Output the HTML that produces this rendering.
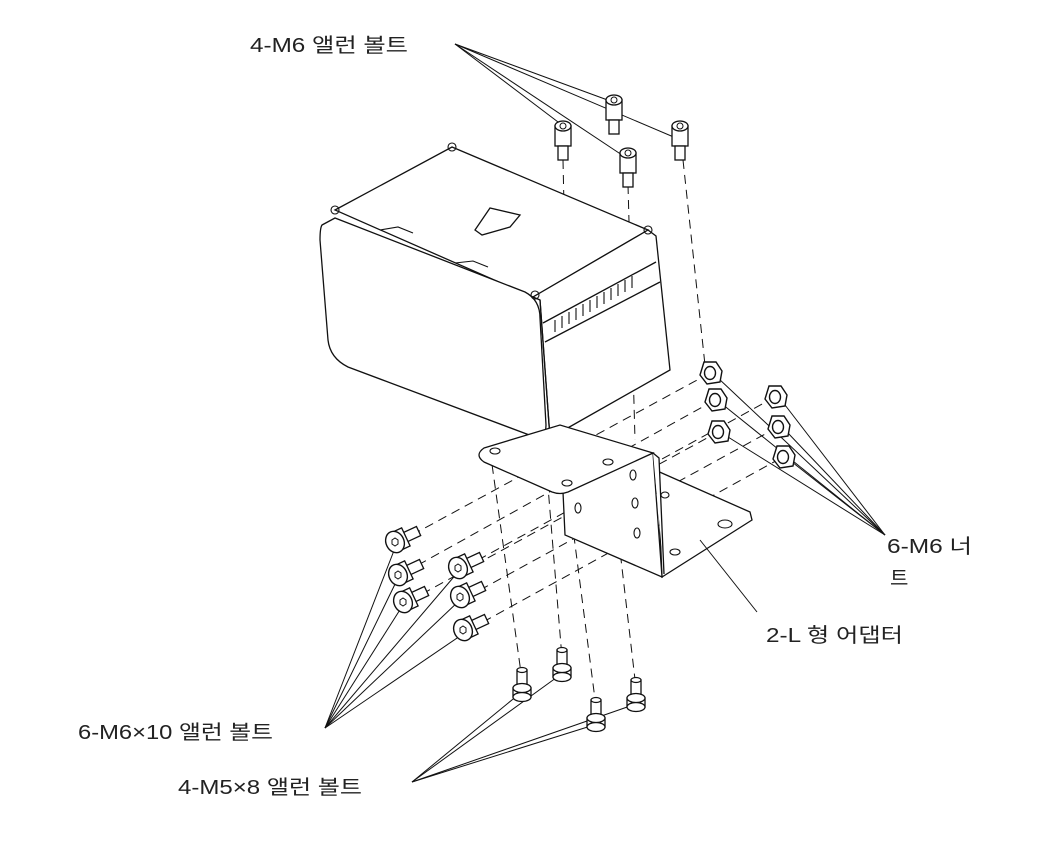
<!DOCTYPE html>
<html><head><meta charset="utf-8"><style>
html,body{margin:0;padding:0;background:#fff;}
svg{display:block}
text{font-family:"Liberation Sans","Noto Sans CJK KR",sans-serif;font-size:20px;fill:#222}
</style></head><body>
<svg width="1046" height="850" viewBox="0 0 1046 850" xmlns="http://www.w3.org/2000/svg">
<defs>
<g id="hb">
<rect x="-8" y="0" width="16" height="20" fill="#fff" stroke="#111" stroke-width="1.3"/>
<ellipse cx="0" cy="0" rx="8" ry="5" fill="#fff" stroke="#111" stroke-width="1.3"/>
<rect x="-5" y="20" width="10" height="14" fill="#fff" stroke="#111" stroke-width="1.3"/>
<circle cx="0" cy="0" r="3" fill="none" stroke="#111"/>
</g>
<g id="hbu">
<rect x="-5" y="-16" width="10" height="18" fill="#fff" stroke="#111" stroke-width="1.3"/>
<ellipse cx="0" cy="-16" rx="5" ry="2.5" fill="#fff" stroke="#111" stroke-width="1.2"/>
<rect x="-9" y="2" width="18" height="9" fill="#fff" stroke="#111" stroke-width="1.3"/>
<ellipse cx="0" cy="11" rx="9" ry="4.5" fill="#fff" stroke="#111" stroke-width="1.3"/>
<ellipse cx="0" cy="2" rx="9" ry="4.5" fill="#fff" stroke="#111" stroke-width="1.3"/>
</g>
<g id="hl">
<g transform="rotate(-25)">
<rect x="10" y="-5" width="16" height="10" fill="#fff" stroke="#111" stroke-width="1.3"/>
<rect x="-2" y="-10" width="14" height="20" fill="#fff" stroke="#111" stroke-width="1.3"/>
</g>
<ellipse cx="0" cy="0" rx="9" ry="11" transform="rotate(-25)" fill="#fff" stroke="#111" stroke-width="1.4"/>
<polygon points="-3,-2 0,-4 3,-2 3,2 0,4 -3,2" fill="none" stroke="#111"/>
</g>
<g id="nut">
<polygon points="-6,-11 6,-11 12,-2 10,9 -3,11 -10,2" fill="#fff" stroke="#111" stroke-width="1.4"/>
<ellipse cx="0" cy="0" rx="5.5" ry="6.5" fill="#fff" stroke="#111" stroke-width="1.4"/>
</g>
</defs>
<g fill="none" stroke="#111" stroke-width="1">
<g stroke-dasharray="9,6">
<line x1="563" y1="160" x2="570" y2="485"/>
<line x1="628" y1="185" x2="635" y2="440"/>
<line x1="683" y1="160" x2="705" y2="365"/>
<line x1="490" y1="450" x2="522" y2="680"/>
<line x1="545" y1="450" x2="562" y2="658"/>
<line x1="568" y1="490" x2="596" y2="707"/>
<line x1="610" y1="465" x2="636" y2="688"/>
<line x1="412" y1="535" x2="710" y2="373"/>
<line x1="418" y1="565" x2="715" y2="400"/>
<line x1="422" y1="594" x2="718" y2="432"/>
<line x1="478" y1="560" x2="775" y2="397"/>
<line x1="480" y1="590" x2="778" y2="427"/>
<line x1="483" y1="622" x2="783" y2="457"/>
</g>
<g stroke-width="1.3" fill="#fff">
<polygon points="335,210 452,147 648,230 533,297"/>
<polygon points="533,297 648,230 656,236 670,370 550,438 540,300"/>
<path d="M322,225 L335,218 L525,292 Q540,300 540,318 L546,425 Q546,440 532,436 L348,367 Q330,358 328,340 L320,240 Q320,228 322,225 Z"/>
<path d="M540,300 L550,438"/>
<path d="M543,323 L656,262"/>
<path d="M545,342 L660,282"/>
<polygon points="475,230 490,208 520,215 510,227 482,235"/>
</g>
<g stroke-width="1.1">
<path d="M555,320 l0,12 M562,316 l0,12 M569,312 l0,12 M576,308 l0,12 M583,304 l0,12 M590,300 l0,12 M597,296 l0,12 M604,292 l0,12 M611,288 l0,12 M618,284 l0,12 M625,280 l0,12 M632,276 l0,12"/>
<circle cx="452" cy="147" r="4"/><circle cx="335" cy="210" r="4"/><circle cx="648" cy="230" r="4"/><circle cx="535" cy="295" r="4"/>
<path d="M380,230 l18,-3 l15,6 M455,263 l18,-2 l15,6"/>
</g>
<!-- bracket -->
<g stroke-width="1.3" fill="#fff">
<polygon points="655,470 750,512 752,520 662,577 658,480"/>
<polygon points="563,492 653,453 662,577 565,535"/>
<path d="M484,448 L560,425 L653,453 L568,492 Q560,495 552,492 L484,462 Q474,455 484,448 Z"/>
<path d="M653,453 L659,458 L664,574"/>
</g>
<g stroke-width="1.1">
<ellipse cx="495" cy="451" rx="5" ry="3"/><ellipse cx="567" cy="483" rx="5" ry="3"/><ellipse cx="608" cy="462" rx="5" ry="3"/>
<ellipse cx="578" cy="508" rx="3" ry="5"/><ellipse cx="633" cy="475" rx="3" ry="5"/><ellipse cx="635" cy="503" rx="3" ry="5"/><ellipse cx="637" cy="533" rx="3" ry="5"/>
<ellipse cx="725" cy="524" rx="7" ry="4"/><ellipse cx="675" cy="552" rx="5" ry="3"/><ellipse cx="665" cy="495" rx="4" ry="3"/>
</g>
<g stroke-width="1">
<line x1="455" y1="44" x2="562" y2="125"/>
<line x1="455" y1="44" x2="622" y2="155"/>
<line x1="455" y1="44" x2="676" y2="138"/>
<line x1="455" y1="44" x2="613" y2="102"/>
<line x1="885" y1="535" x2="718" y2="378"/>
<line x1="885" y1="535" x2="722" y2="404"/>
<line x1="885" y1="535" x2="728" y2="437"/>
<line x1="885" y1="535" x2="785" y2="405"/>
<line x1="885" y1="535" x2="787" y2="432"/>
<line x1="885" y1="535" x2="792" y2="462"/>
<line x1="757" y1="612" x2="700" y2="540"/>
<line x1="325" y1="728" x2="395" y2="548"/>
<line x1="325" y1="728" x2="398" y2="578"/>
<line x1="325" y1="728" x2="403" y2="605"/>
<line x1="325" y1="728" x2="458" y2="572"/>
<line x1="325" y1="728" x2="460" y2="600"/>
<line x1="325" y1="728" x2="463" y2="634"/>
<line x1="412" y1="782" x2="518" y2="695"/>
<line x1="412" y1="782" x2="560" y2="675"/>
<line x1="412" y1="782" x2="594" y2="725"/>
<line x1="412" y1="782" x2="633" y2="705"/>
</g>
</g>
<use href="#hb" x="563" y="126"/>
<use href="#hb" x="614" y="100"/>
<use href="#hb" x="628" y="153"/>
<use href="#hb" x="680" y="126"/>
<use href="#nut" x="710" y="373"/><use href="#nut" x="715" y="400"/><use href="#nut" x="718" y="432"/>
<use href="#nut" x="775" y="397"/><use href="#nut" x="778" y="427"/><use href="#nut" x="783" y="457"/>
<use href="#hl" x="395" y="542"/><use href="#hl" x="398" y="575"/><use href="#hl" x="403" y="602"/>
<use href="#hl" x="458" y="568"/><use href="#hl" x="460" y="597"/><use href="#hl" x="463" y="630"/>
<use href="#hbu" x="522" y="686"/><use href="#hbu" x="562" y="666"/><use href="#hbu" x="596" y="716"/><use href="#hbu" x="636" y="696"/>
<text x="250" y="52" textLength="158" lengthAdjust="spacingAndGlyphs">4-M6 앨런 볼트</text>
<text x="887" y="553" textLength="85" lengthAdjust="spacingAndGlyphs">6-M6 너</text>
<text x="890" y="585">트</text>
<text x="766" y="642" textLength="137" lengthAdjust="spacingAndGlyphs">2-L 형 어댑터</text>
<text x="78" y="739" textLength="195" lengthAdjust="spacingAndGlyphs">6-M6×10 앨런 볼트</text>
<text x="178" y="794" textLength="184" lengthAdjust="spacingAndGlyphs">4-M5×8 앨런 볼트</text>
</svg>
</body></html>
